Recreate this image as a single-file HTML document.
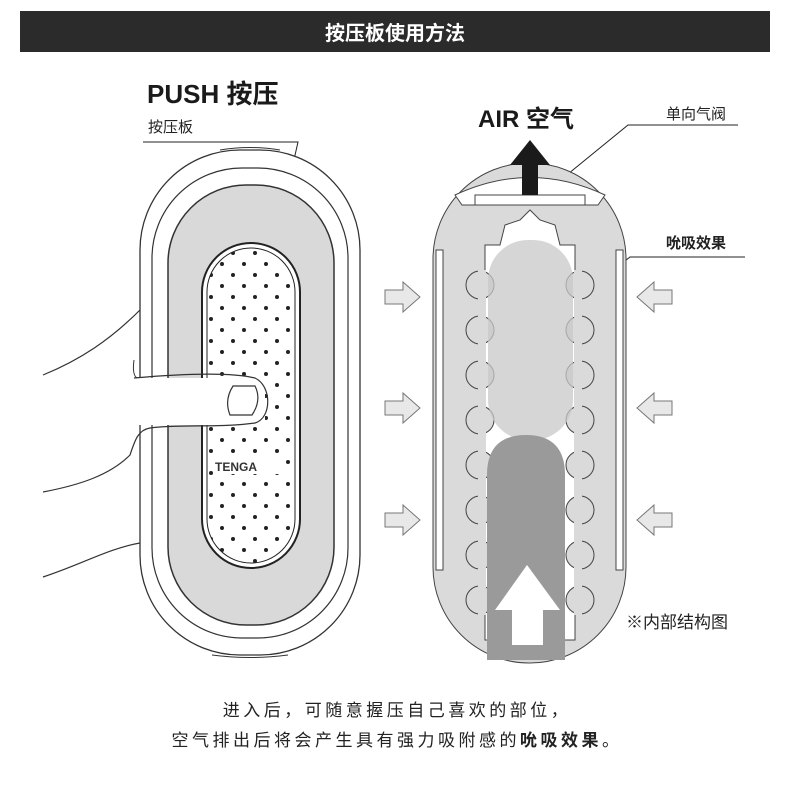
<!DOCTYPE html>
<html><head><meta charset="utf-8"><style>
html,body{margin:0;padding:0;background:#fff;}
svg{display:block;}
text{font-family:"Liberation Sans","Noto Sans CJK SC",sans-serif;}
</style></head><body>
<svg width="790" height="788" viewBox="0 0 790 788" xmlns="http://www.w3.org/2000/svg">
<defs>
<pattern id="dots" x="205" y="247" width="22" height="22" patternUnits="userSpaceOnUse">
<circle cx="6" cy="6" r="2" fill="#222"/><circle cx="17" cy="17" r="2" fill="#222"/>
</pattern>
<g id="rarrow"><path d="M0,-7 H18 V-15 L35,0 L18,15 V7 H0 Z" fill="#e8e8e8" stroke="#777" stroke-width="1"/></g>
</defs>
<rect x="20" y="11" width="750" height="41" fill="#2b2b2b"/>
<text x="395" y="40" font-size="20" font-weight="bold" fill="#fff" text-anchor="middle">按压板使用方法</text>

<text x="147" y="103" font-size="26" font-weight="bold" fill="#1a1a1a">PUSH 按压</text>
<text x="148" y="132" font-size="15" fill="#222">按压板</text>
<polyline points="143,142 298,142 250,354" fill="none" stroke="#222" stroke-width="1"/>

<rect x="140" y="150" width="220" height="505" rx="100" fill="#fff" stroke="#333" stroke-width="1.3"/>
<rect x="152" y="168" width="196" height="470" rx="90" fill="#fff" stroke="#333" stroke-width="1.2"/>
<rect x="168" y="185" width="166" height="440" rx="78" fill="#d9d9d9" stroke="#333" stroke-width="1.5"/>
<path d="M220,150 Q250,145 280,150" fill="none" stroke="#333"/>
<path d="M212,655 Q250,660 288,655" fill="none" stroke="#333"/>
<rect x="202" y="243" width="98" height="325" rx="49" fill="#fff" stroke="#222" stroke-width="2"/>
<rect x="207" y="248" width="88" height="315" rx="44" fill="url(#dots)" stroke="#222" stroke-width="1"/>
<rect x="214" y="458" width="66" height="16" fill="#fff"/>
<text x="215" y="471" font-size="12" font-weight="bold" fill="#333">TENGA</text>
<rect x="130" y="378" width="135" height="47" fill="#fff"/>
<path d="M43,375 C80,360 110,340 140,310" fill="none" stroke="#333" stroke-width="1.2"/>
<path d="M134,378 C180,374 230,372 255,378 C272,386 272,418 255,423 C220,428 180,424 150,428 C138,430 135,440 130,455 C110,475 80,485 43,492" fill="none" stroke="#333" stroke-width="1.2"/>
<path d="M134,360 Q132,375 137,378" fill="none" stroke="#333"/>
<path d="M233,386 H255 Q262,400 252,415 H230 Q224,400 233,386 Z" fill="#fff" stroke="#333" stroke-width="1.2"/>
<path d="M43,577 C80,565 110,548 140,543" fill="none" stroke="#333" stroke-width="1.2"/>

<text x="478" y="127" font-size="24" font-weight="bold" fill="#1a1a1a">AIR 空气</text>
<text x="666" y="119" font-size="15" fill="#222">单向气阀</text>
<polyline points="738,125 628,125 530,205" fill="none" stroke="#222" stroke-width="1"/>
<text x="666" y="248" font-size="15" font-weight="bold" fill="#222">吮吸效果</text>
<polyline points="745,257 630,257 530,335" fill="none" stroke="#222" stroke-width="1"/>
<text x="626" y="628" font-size="17" fill="#222">※内部结构图</text>

<rect x="433" y="163" width="193" height="500" rx="96" fill="#dadada" stroke="#444" stroke-width="1"/>
<path d="M455,195 Q530,160 605,195 L598,205 H462 Z" fill="#fff" stroke="#444"/>
<rect x="475" y="195" width="110" height="10" fill="#fff" stroke="#444"/>
<rect x="436" y="250" width="7" height="320" fill="#fff" stroke="#444"/>
<rect x="616" y="250" width="7" height="320" fill="#fff" stroke="#444"/>
<path d="M520,220 L530,210 L540,220 L555,225 L560,245 H575 L575,640 H485 L485,245 H500 L505,225 Z" fill="#fff" stroke="#444"/>
<g fill="#dadada" stroke="#444" stroke-width="1">
<circle cx="480" cy="285" r="14"/><circle cx="580" cy="285" r="14"/>
<circle cx="480" cy="330" r="14"/><circle cx="580" cy="330" r="14"/>
<circle cx="480" cy="375" r="14"/><circle cx="580" cy="375" r="14"/>
<circle cx="480" cy="420" r="14"/><circle cx="580" cy="420" r="14"/>
<circle cx="480" cy="465" r="14"/><circle cx="580" cy="465" r="14"/>
<circle cx="480" cy="510" r="14"/><circle cx="580" cy="510" r="14"/>
<circle cx="480" cy="555" r="14"/><circle cx="580" cy="555" r="14"/>
<circle cx="480" cy="600" r="14"/><circle cx="580" cy="600" r="14"/>
</g>
<rect x="478" y="270" width="8" height="345" fill="#dadada"/>
<rect x="574" y="270" width="8" height="345" fill="#dadada"/>
<rect x="488" y="240" width="85" height="200" rx="40" fill="#c8c8c8" opacity="0.75"/>
<path d="M487,660 V475 Q487,435 526,435 Q565,435 565,475 V660 Z" fill="#9a9a9a"/>
<path d="M527,565 L495,610 H512 V645 H543 V610 H560 Z" fill="#fff"/>
<path d="M522,195 V165 H510 L530,140 L550,165 H538 V195 Z" fill="#1a1a1a"/>
<use href="#rarrow" x="385" y="297"/>
<use href="#rarrow" x="385" y="408"/>
<use href="#rarrow" x="385" y="520"/>
<use href="#rarrow" transform="translate(672,297) scale(-1,1)"/>
<use href="#rarrow" transform="translate(672,408) scale(-1,1)"/>
<use href="#rarrow" transform="translate(672,520) scale(-1,1)"/>

<text x="397" y="716" font-size="17" fill="#222" text-anchor="middle" letter-spacing="3.5">进入后，可随意握压自己喜欢的部位，</text>
<text x="397" y="746" font-size="17" fill="#222" text-anchor="middle" letter-spacing="3.5">空气排出后将会产生具有强力吸附感的<tspan font-weight="bold">吮吸效果</tspan>。</text>
</svg>
</body></html>
